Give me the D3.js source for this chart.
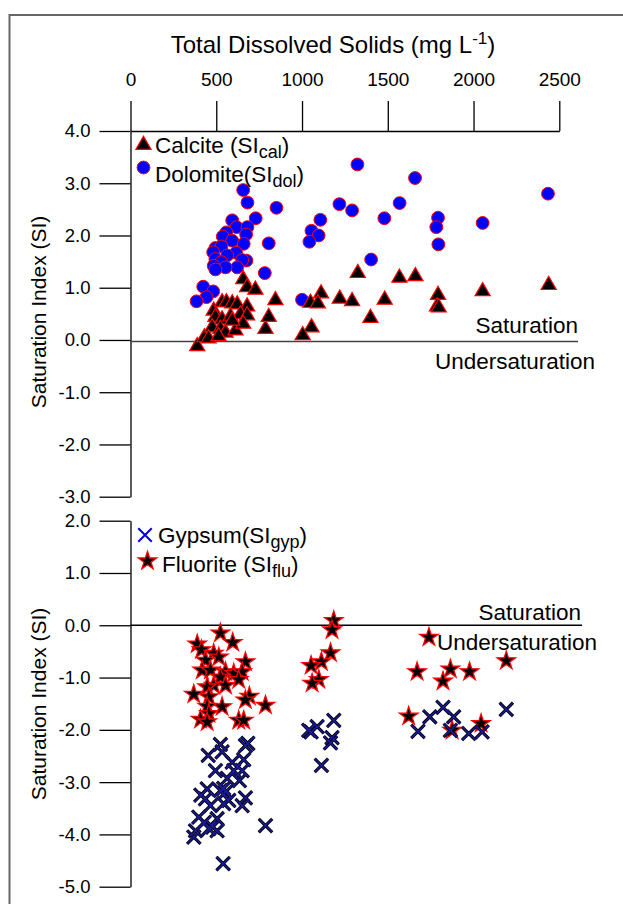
<!DOCTYPE html>
<html>
<head>
<meta charset="utf-8">
<script src="https://cdn.jsdelivr.net/npm/d3@7"></script>
<style>
  html, body { margin: 0; padding: 0; background: #fff; }
  svg { display: block; font-family: "Liberation Sans", Arial, sans-serif; }
</style>
</head>
<body>
<svg id="chart" width="623" height="904"></svg>
<script>
// TDS (mg/L) and saturation indices for each mineral phase
const calciteTDS = [1325,1568,1661,1111,1049,1092,1220,1292,1482,1793,1787,1797,2053,2438,1399,1055,1004,
  657,680,728,845,787,806,389,431,485,534,559,593,622,680,495,534,583,641,680,476,524,554,612,657,593,455,513];
const calciteSI = [1.28,1.19,1.22,0.89,0.71,0.70,0.79,0.74,0.77,0.86,0.64,0.62,0.93,1.05,0.42,0.24,0.09,
  1.16,1.01,0.96,0.76,0.21,0.44,-0.12,0.05,0.56,0.72,0.72,0.70,0.68,0.64,0.44,0.39,0.45,0.49,0.47,0.24,0.21,0.14,0.18,0.31,0.37,0.03,0.07];

const dolomiteTDS = [657,682,851,730,593,619,682,559,538,674,593,660,495,530,482,616,806,564,495,676,651,529,485,622,554,495,783,
  424,482,443,385,1000,1055,1097,1043,1107,1218,1292,1323,1480,1403,1569,1659,1793,1783,1795,2053,2434];
const dolomiteSI = [2.87,2.63,2.53,2.33,2.29,2.16,2.16,2.06,1.98,2.02,1.90,1.84,1.76,1.79,1.68,1.67,1.85,1.62,1.55,1.52,1.53,1.49,1.42,1.39,1.39,1.35,1.28,
  1.02,0.93,0.82,0.74,0.77,2.09,2.00,1.88,2.30,2.60,2.48,3.36,2.33,1.54,2.62,3.10,2.34,2.16,1.83,2.24,2.80];

const gypsumTDS = [524,684,670,453,534,593,660,495,602,651,564,635,447,524,410,437,554,573,670,651,543,466,398,505,430,479,379,505,369,457,787,540,543,
  1185,1088,1053,1039,1175,1166,1113,1676,1745,1822,1884,1865,1972,2050,2191];
const gypsumSI = [-2.28,-2.26,-2.30,-2.49,-2.42,-2.62,-2.57,-2.78,-2.78,-2.78,-2.93,-2.97,-3.13,-3.16,-3.25,-3.32,-3.19,-3.35,-3.30,-3.45,-3.41,-3.45,-3.67,-3.70,-3.77,-3.86,-3.93,-3.93,-4.05,-3.89,-3.83,-4.56,-3.12,
  -1.82,-1.94,-2.04,-2.01,-2.15,-2.25,-2.68,-2.03,-1.75,-1.57,-1.75,-2.01,-2.07,-2.04,-1.61];

const fluoriteTDS = [524,596,389,414,485,515,437,670,418,466,554,602,651,524,631,485,447,554,369,457,693,670,787,534,447,457,408,447,631,660,
  1185,1175,1166,1113,1053,1098,1059,1740,1671,1865,1822,1977,2191,1622,1875,2044];
const fluoriteSI = [-0.15,-0.33,-0.36,-0.47,-0.54,-0.61,-0.67,-0.70,-0.86,-0.86,-0.89,-0.92,-0.89,-0.99,-1.04,-1.15,-1.18,-1.15,-1.32,-1.37,-1.36,-1.43,-1.53,-1.56,-1.55,-1.69,-1.80,-1.85,-1.82,-1.82,
  0.09,-0.09,-0.53,-0.70,-0.77,-1.04,-1.11,-0.23,-0.89,-0.84,-1.07,-0.89,-0.68,-1.74,-2.01,-1.88];

const tdsTicks = [0, 500, 1000, 1500, 2000, 2500];
const topSITicks = [-3, -2, -1, 0, 1, 2, 3, 4];
const bottomSITicks = [-5, -4, -3, -2, -1, 0, 1, 2];

const svg = d3.select("#chart");
const fmt = d => d.toFixed(1);

// outer frame
svg.append("rect").attr("x", 9.5).attr("y", 15).attr("width", 700).attr("height", 1000)
  .attr("fill", "none").attr("stroke", "#666").attr("stroke-width", 2);

const x = d3.scaleLinear().domain([0, 2500]).range([130.5, 559.3]);
const yTop = d3.scaleLinear().domain([-3, 4]).range([496.7, 131]);
const yBot = d3.scaleLinear().domain([-5, 2]).range([886.7, 520.7]);

function styleAxis(g, size) {
  g.selectAll("path.domain").attr("stroke", "#000").attr("stroke-width", 1.3);
  g.selectAll(".tick line").attr("stroke", "#000").attr("stroke-width", 1.3);
  g.selectAll(".tick text").attr("fill", "#000").attr("font-size", size)
    .attr("font-family", "Liberation Sans, Arial, sans-serif");
}

// TDS axis across the top
const gx = svg.append("g").attr("transform", `translate(0,${yTop(4)})`)
  .call(d3.axisTop(x).tickValues(tdsTicks).tickFormat(d => String(d))
    .tickSize(30).tickSizeOuter(0).tickPadding(15));
styleAxis(gx, 19);

svg.append("text").attr("x", 333).attr("y", 53).attr("text-anchor", "middle")
  .attr("font-size", 24)
  .call(t => {
    t.append("tspan").text("Total Dissolved Solids (mg L");
    t.append("tspan").attr("dy", -9).attr("font-size", 17).text("-1");
    t.append("tspan").attr("dy", 9).text(")");
  });

// left axes
const gyT = svg.append("g").attr("transform", `translate(${x(0)},0)`)
  .call(d3.axisLeft(yTop).tickValues(topSITicks).tickFormat(fmt).tickSize(31).tickSizeOuter(0).tickPadding(9));
styleAxis(gyT, 18.5);
const gyB = svg.append("g").attr("transform", `translate(${x(0)},0)`)
  .call(d3.axisLeft(yBot).tickValues(bottomSITicks).tickFormat(fmt).tickSize(31).tickSizeOuter(0).tickPadding(9));
styleAxis(gyB, 18.5);

[312, 704].forEach(cy => {
  svg.append("text").attr("transform", `translate(46,${cy}) rotate(-90)`)
    .attr("text-anchor", "middle").attr("font-size", 21).text("Saturation Index (SI)");
});

// saturation reference lines
svg.append("line").attr("x1", x(0)).attr("x2", 578).attr("y1", yTop(0) + 1.5).attr("y2", yTop(0) + 1.5)
  .attr("stroke", "#444").attr("stroke-width", 1.5);
svg.append("text").attr("x", 578).attr("y", 333).attr("text-anchor", "end").attr("font-size", 22.5).text("Saturation");
svg.append("text").attr("x", 435).attr("y", 369).attr("font-size", 22.5).text("Undersaturation");

svg.append("line").attr("x1", x(0)).attr("x2", 582).attr("y1", yBot(0)).attr("y2", yBot(0))
  .attr("stroke", "#000").attr("stroke-width", 1.5);
svg.append("text").attr("x", 581).attr("y", 620).attr("text-anchor", "end").attr("font-size", 22.5).text("Saturation");
svg.append("text").attr("x", 437).attr("y", 650).attr("font-size", 22.5).text("Undersaturation");

// symbol generators
const triSym = d3.symbol().type(d3.symbolTriangle).size(100);
const starSym = d3.symbol().type(d3.symbolStar).size(105);
const xSym = d3.symbol().type(d3.symbolX).size(120);

const zip = (a, b) => a.map((v, i) => [v, b[i]]);

// top panel: dolomite circles and calcite triangles
svg.append("g").selectAll("circle").data(zip(dolomiteTDS, dolomiteSI)).join("circle")
  .attr("cx", d => x(d[0])).attr("cy", d => yTop(d[1])).attr("r", 6.4)
  .attr("fill", "#0000ff").attr("stroke", "#ff0000").attr("stroke-width", 1);
svg.append("g").selectAll("path").data(zip(calciteTDS, calciteSI)).join("path")
  .attr("transform", d => `translate(${x(d[0])},${yTop(d[1])})`).attr("d", triSym)
  .attr("fill", "#000").attr("stroke", "#ff0000").attr("stroke-width", 1.2);

// bottom panel: fluorite stars and gypsum crosses
svg.append("g").selectAll("path").data(zip(fluoriteTDS, fluoriteSI)).join("path")
  .attr("transform", d => `translate(${x(d[0])},${yBot(d[1])})`).attr("d", starSym)
  .attr("fill", "#000").attr("stroke", "#ff0000").attr("stroke-width", 1.3);
const gyp = svg.append("g");
gyp.selectAll("path.o").data(zip(gypsumTDS, gypsumSI)).join("path").attr("class", "o")
  .attr("transform", d => `translate(${x(d[0])},${yBot(d[1])})`).attr("d", xSym)
  .attr("fill", "none").attr("stroke", "#000").attr("stroke-width", 3.2);
gyp.selectAll("path.i").data(zip(gypsumTDS, gypsumSI)).join("path").attr("class", "i")
  .attr("transform", d => `translate(${x(d[0])},${yBot(d[1])})`).attr("d", xSym)
  .attr("fill", "none").attr("stroke", "#1a1a9a").attr("stroke-width", 1.5);

// legends
function legendLabel(xp, yp, main, sub) {
  const t = svg.append("text").attr("x", xp).attr("y", yp).attr("font-size", 22.5);
  t.append("tspan").text(main);
  t.append("tspan").attr("dy", 5).attr("font-size", 18).text(sub);
  t.append("tspan").attr("dy", -5).text(")");
}
svg.append("path").attr("transform", "translate(143.5,145)").attr("d", triSym)
  .attr("fill", "#000").attr("stroke", "#ff0000").attr("stroke-width", 1.2);
legendLabel(155, 153, "Calcite (SI", "cal");
svg.append("circle").attr("cx", 143.5).attr("cy", 167.5).attr("r", 6.4)
  .attr("fill", "#0000ff").attr("stroke", "#ff0000").attr("stroke-width", 1);
legendLabel(155, 182, "Dolomite(SI", "dol");

svg.append("path").attr("transform", "translate(145,535)").attr("d", xSym)
  .attr("fill", "none").attr("stroke", "#0000dd").attr("stroke-width", 2);
legendLabel(158, 543, "Gypsum(SI", "gyp");
svg.append("path").attr("transform", "translate(147.5,561)").attr("d", starSym)
  .attr("fill", "#000").attr("stroke", "#ff0000").attr("stroke-width", 1.3);
legendLabel(162, 572, "Fluorite (SI", "flu");
</script>
</body>
</html>
